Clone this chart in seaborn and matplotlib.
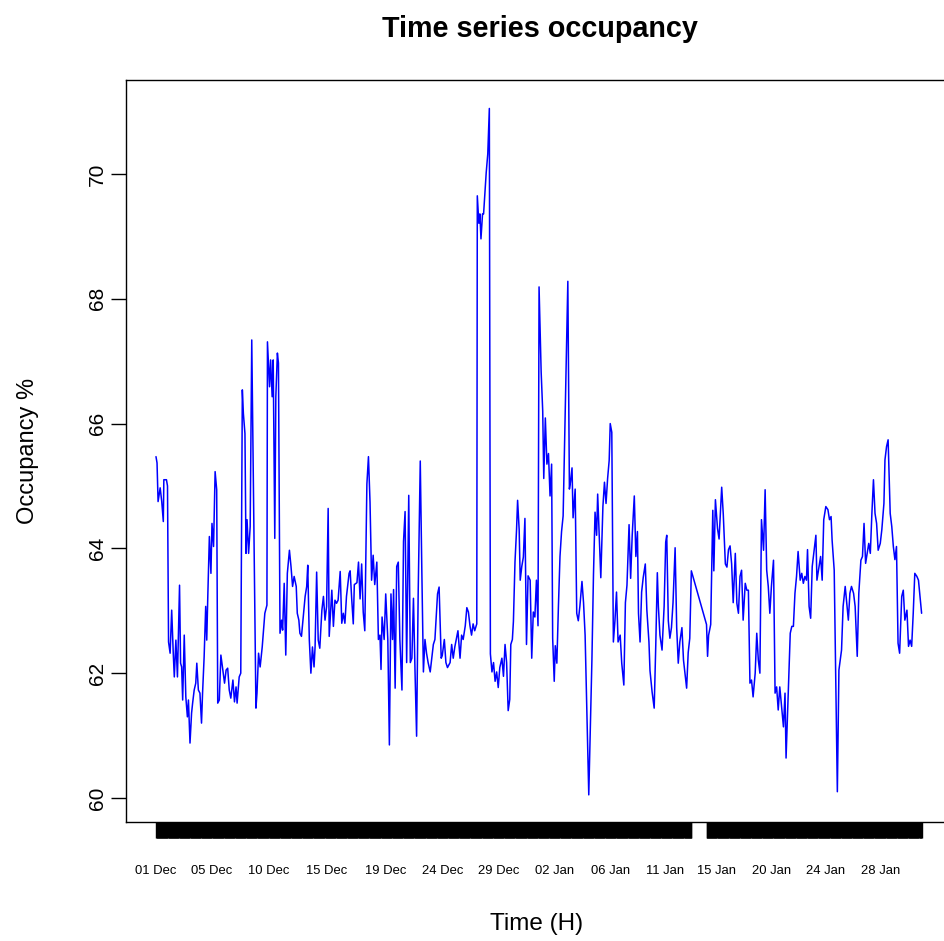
import numpy as np
import pandas as pd
import matplotlib
matplotlib.use("Agg")
import matplotlib.pyplot as plt
import matplotlib.ticker as mticker
import seaborn as sns

# ---- data: hours since 01 Dec 00:00 and occupancy (%) ----
hours_dec_a = [0,2,4,8,11,14,15,20,22,24,
    27,30,33,35,38,41,45,47,49,51,
    54,57,60,62,65,68,70,73,76,78,
    81,84,87,89,92,95,97,99,102,105,
    107,110,113,116,118,121,124,127,131,134,
    137,140,143,147,150,153,155,159,162,165,
    167,170,172,174,177,180,183,191,193,196,
    199,203,205,208,212,213,217,219,222,224,
    227,229,232,234,237,240,242,245,248,251,
    255,258,261,264,268,270,273,275,278,282,
    285,288,290,293,296,299,302,304,307,310,
    313,317,320,323,326,329,331,336,339,342,
    345,348,352,355,358,361,364,369]
occ_dec_a = [65.47,65.37,64.75,64.97,64.75,64.43,65.10,65.10,65.00,62.50,
    62.32,63.01,62.32,61.94,62.53,61.94,63.41,62.16,62.10,61.57,
    62.61,61.62,61.30,61.57,60.88,61.36,61.52,61.73,61.84,62.16,
    61.73,61.68,61.20,61.68,62.26,63.07,62.53,63.23,64.19,63.60,
    64.40,64.03,65.23,64.94,61.52,61.57,62.29,62.10,61.84,62.05,
    62.08,61.73,61.60,61.89,61.54,61.78,61.52,61.94,62.00,66.54,
    66.16,65.84,63.92,64.46,63.92,64.35,67.34,61.44,61.68,62.32,
    62.10,62.42,62.64,62.96,63.09,67.31,66.59,67.02,66.43,67.02,
    64.16,66.43,67.13,66.97,62.64,62.85,62.69,63.44,62.29,63.60,
    63.97,63.71,63.39,63.55,63.39,62.96,62.85,62.64,62.59,62.96,
    63.23,63.39,63.73,62.53,62.00,62.42,62.10,62.42,63.62,62.53,
    62.40,63.01,63.23,62.85,63.07,64.64,62.59,63.33,62.75,63.17,
    63.12,63.17,63.63,62.80,62.96,62.80,63.23,63.60]

hours_dec_b = [371,374,377,379,384,387,390,393,396,399,
    403,406,409,412,415,418,422,425,428,430,
    432,436,439,443,446,449,452,454,457,460,
    463,466,470,473,476,479,483,486,489,492,
    495,498,501,505,508,511,514,517,520,524,
    527,530,533,538,541,545,547,551,554,557,
    562,565,568,571,577,581,584,587,591,594,
    597,600,603,606,609,613,614,617,619,621,
    624,626,629,631,634,637,639,642,645,648,
    651,654,657,661,664,667,670,673,676,678,
    681,683,686,689,691,694,696,699,702,705,
    708,711,715,718,721,724,727,730,732]
occ_dec_b = [63.64,63.19,62.79,63.42,63.45,63.78,63.19,63.75,62.98,62.68,
    65.03,65.47,64.74,63.49,63.89,63.42,63.78,62.54,62.61,62.06,
    62.90,62.54,63.27,62.54,60.85,63.27,62.54,63.34,61.76,63.71,
    63.78,62.54,61.73,64.11,64.59,62.17,64.85,62.17,62.24,63.20,
    62.02,60.99,63.27,65.40,63.64,62.02,62.54,62.32,62.17,62.02,
    62.24,62.46,62.54,63.27,63.38,62.24,62.28,62.54,62.17,62.09,
    62.17,62.46,62.24,62.42,62.68,62.24,62.61,62.54,62.76,63.05,
    62.98,62.76,62.61,62.79,62.68,62.79,69.65,69.21,69.36,68.96,
    69.36,69.36,69.76,70.02,70.32,71.05,62.31,62.02,62.17,61.87,
    62.02,61.77,62.09,62.24,61.95,62.46,62.17,61.40,61.58,62.46,
    62.54,62.83,63.78,64.30,64.77,64.30,63.49,63.71,63.86,64.48,
    62.46,63.56,63.49,62.24,62.98,62.90,63.49,62.76,68.19]

hours_jan_a = [736,739,741,744,747,750,753,756,758,761,
    763,766,769,772,775,778,787,790,792,795,
    797,801,804,807,810,814,817,820,827,833,
    836,839,842,844,847,850,854,857,860,863,
    866,868,871,874,877,880,883,887,890,894,
    897,900,904,907,910,914,917,920,922,925,
    928,931,935,938,942,944,948,952,955,958,
    960,963,967,971,974,976,979,982,985,988,
    992,995,998,1001,1005,1008,1011,1014,1017,1020,
    1023]
occ_jan_a = [66.83,66.20,65.12,66.09,65.35,65.52,64.84,65.35,62.56,61.87,
    62.44,62.16,63.07,63.87,64.27,64.52,68.28,64.95,65.06,65.29,
    64.49,64.95,62.96,62.84,63.07,63.47,63.13,62.61,60.05,62.21,
    63.58,64.58,64.21,64.87,64.21,63.53,64.67,65.06,64.72,65.12,
    65.41,66.00,65.86,62.50,62.84,63.30,62.50,62.61,62.16,61.81,
    63.13,63.41,64.38,63.52,64.21,64.84,63.87,64.27,62.96,62.50,
    63.30,63.53,63.75,63.01,62.50,62.04,61.70,61.44,62.44,63.61,
    63.07,62.61,62.37,63.07,64.10,64.21,62.84,62.56,62.73,63.13,
    64.01,62.73,62.16,62.50,62.73,62.21,61.99,61.76,62.33,62.56,
    63.64]

hours_jan_b = [1052,1054,1056,1060,1064,1066,1069,1073,1076,1081,
    1084,1088,1091,1094,1097,1100,1103,1107,1110,1113,
    1116,1119,1122,1126,1129,1132,1135,1138,1141,1145,
    1148,1151,1154,1157,1161,1164,1167,1170,1173,1176,
    1180,1183,1186,1189,1192,1196,1199,1202,1204,1212,
    1215,1218,1221,1224,1227,1231,1234,1237,1240,1243,
    1245,1248,1251,1254,1257,1261,1263,1267,1270,1273,
    1276,1280,1284,1287,1290,1292,1296,1302,1305,1310,
    1313,1317,1320,1323,1326,1329,1333,1336,1340,1343,
    1347,1350,1353,1356,1359,1362,1365,1368,1371,1374,
    1377,1380,1384,1387,1391,1393,1396,1399,1403,1406,
    1409,1412,1415,1418,1421,1425,1428,1431,1435,1438,
    1441,1444,1447,1450,1454,1457,1460,1463]
occ_jan_b = [62.78,62.27,62.61,62.78,64.61,63.64,64.78,64.32,64.15,64.98,
    64.55,63.75,63.70,63.98,64.04,63.75,63.13,63.92,63.12,62.96,
    63.55,63.65,62.85,63.44,63.33,63.33,61.84,61.89,61.62,62.00,
    62.64,62.21,62.00,64.46,63.97,64.94,63.65,63.39,62.96,63.39,
    63.81,61.68,61.78,61.41,61.78,61.41,61.14,61.68,60.64,62.64,
    62.75,62.75,63.28,63.55,63.95,63.49,63.60,63.44,63.55,63.49,
    63.98,63.07,62.88,63.71,63.92,64.21,63.49,63.71,63.87,63.49,
    64.46,64.67,64.62,64.46,64.51,64.13,63.65,60.10,62.05,62.37,
    63.07,63.39,63.12,62.85,63.28,63.39,63.28,63.07,62.27,63.28,
    63.81,63.87,64.40,63.76,63.92,64.08,63.92,64.56,65.10,64.56,
    64.40,63.97,64.08,64.30,64.72,65.42,65.63,65.74,64.56,64.35,
    64.03,63.82,64.03,62.48,62.32,63.23,63.33,62.85,63.01,62.43,
    62.53,62.43,62.96,63.60,63.55,63.49,63.23,62.96]

date_labels = ["01 Dec", "05 Dec", "10 Dec", "15 Dec", "19 Dec", "24 Dec", "29 Dec",
               "02 Jan", "06 Jan", "11 Jan", "15 Jan", "20 Jan", "24 Jan", "28 Jan"]
date_label_hours = [0, 107, 216, 327, 438, 547, 654, 762, 868, 973, 1072, 1177, 1280, 1384]
y_ticks = [60, 62, 64, 66, 68, 70]

hours = hours_dec_a + hours_dec_b + hours_jan_a + hours_jan_b
occ = occ_dec_a + occ_dec_b + occ_jan_a + occ_jan_b
assert len(hours) == len(occ)
df = pd.DataFrame({"hour": hours, "occ": occ})

# hourly tick marks where data exists (gap in mid January)
h = np.array(hours)
gap = int(np.argmax(np.diff(h)))
hour_marks = np.concatenate([np.arange(h[0], h[gap] + 1), np.arange(h[gap + 1], h[-1] + 1)])

sns.set_style("white")
plt.rcParams['font.family'] = ['Liberation Sans', 'DejaVu Sans']
plt.rcParams['text.color'] = 'black'
plt.rcParams['axes.labelcolor'] = 'black'
plt.rcParams['xtick.color'] = 'black'
plt.rcParams['ytick.color'] = 'black'
mticker.Locator.MAXTICKS = 100000

fig = plt.figure(figsize=(9.45, 9.41), dpi=100)
ax = fig.add_axes([126 / 945, 1 - 822 / 941, 827 / 945, 742 / 941])

sns.lineplot(data=df, x="hour", y="occ", color="#0000FF", linewidth=1.1,
             estimator=None, ax=ax)

ax.set_xlim(-57.3, 1523)
ax.set_ylim(59.615, 71.506)

for sp in ax.spines.values():
    sp.set_visible(True)
    sp.set_color("black")
    sp.set_linewidth(1.0)

ax.set_yticks(y_ticks)
ax.set_yticklabels([str(v) for v in y_ticks])
ax.tick_params(axis='y', which='major', left=True, length=10.8, width=1.0,
               color='black', labelcolor='black', direction='out',
               labelsize=15, labelrotation=90, pad=3)
for lab in ax.get_yticklabels():
    lab.set_va('center')

ax.xaxis.remove_overlapping_locs = False
ax.xaxis.set_major_locator(mticker.FixedLocator(date_label_hours))
ax.xaxis.set_major_formatter(mticker.FixedFormatter(date_labels))
ax.xaxis.set_minor_locator(mticker.FixedLocator(hour_marks))
ax.tick_params(axis='x', which='major', bottom=True, length=0, pad=31,
               labelsize=9.4, labelcolor='black')
ax.tick_params(axis='x', which='minor', bottom=True, length=11.5, width=1.0,
               color='black', direction='out')

ax.set_xlabel("Time (H)", fontsize=17.5, color='black')
ax.xaxis.set_label_coords(0.497, -0.1226)
ax.set_ylabel("Occupancy %", fontsize=17, color='black')
ax.yaxis.set_label_coords(-0.1185, 0.5)
ax.yaxis.label.set_va('center')

ax.set_title("Time series occupancy", fontsize=20.7, fontweight='bold',
             pad=31, color='black')

fig.savefig("out.png", dpi=100)
